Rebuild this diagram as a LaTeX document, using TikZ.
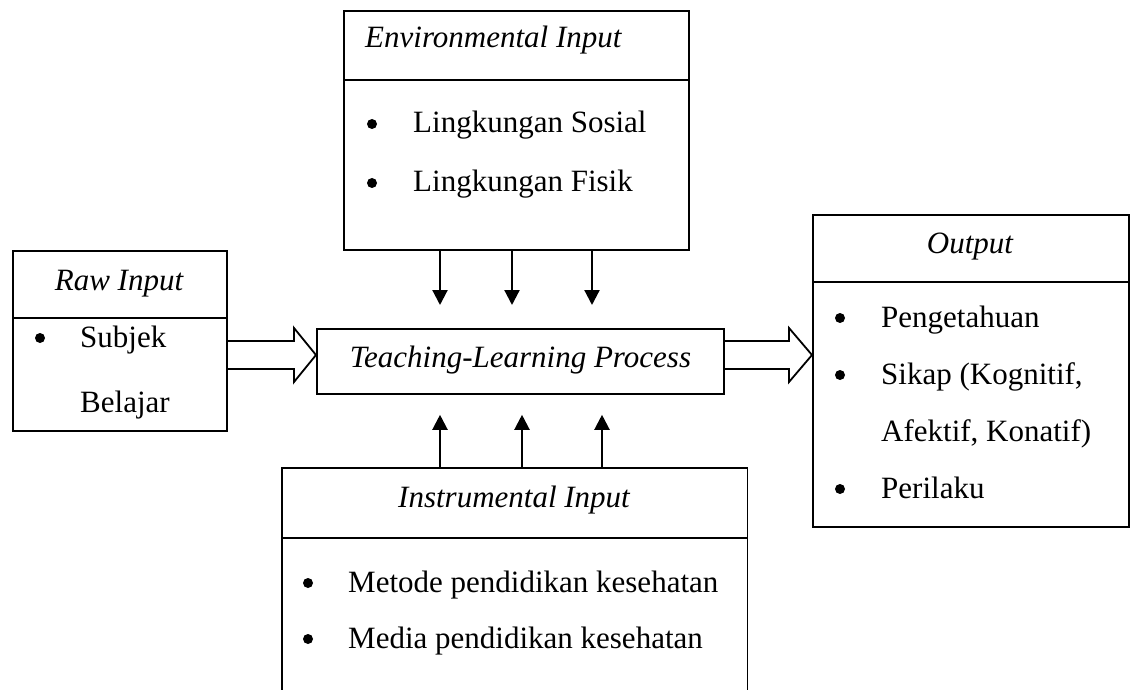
\documentclass[tikz,border=0pt]{standalone}
\usepackage{fontspec}
\setmainfont{Liberation Serif}
\usetikzlibrary{arrows.meta,calc}

\newcommand\bodyfont{\fontsize{31}{37}\selectfont}

\tikzset{
  box/.style={draw, line width=1.8pt, inner sep=0pt, anchor=north west},
  item/.style={anchor=base west, inner sep=0pt},
  head/.style={anchor=base, inner sep=0pt, font=\bodyfont\itshape},
  dot/.style={circle, fill, inner sep=0pt, minimum size=10pt},
  feed/.style={line width=2.2pt, -{Triangle[width=15pt,length=15pt]}},
  fat/.style={line width=1.8pt, line join=miter}
}

\begin{document}
\begin{tikzpicture}[x=1pt,y=-1pt,font=\bodyfont]
\useasboundingbox (0,0) rectangle (1136,690);

		% boxes
		\node [box, minimum width=345, minimum height=239] (env) at (343,10) {};
		\node [box, minimum width=214, minimum height=180] (raw) at (12,250) {};
		\node [box, minimum width=407, minimum height=65] (proc) at (316,328) {};
		\node [box, minimum width=316, minimum height=312] (out) at (812,214) {};
		\node [inner sep=0pt, anchor=north west, minimum width=465, minimum height=240] (ins) at (282,468) {};
		\draw [line width=1.8pt] (ins.south west) -- (ins.north west) -- (ins.north east) -- (ins.south east);

		% dividers
		\draw [line width=1.8pt] (env.west |- 0,80) -- (env.east |- 0,80);
		\draw [line width=1.8pt] (raw.west |- 0,318) -- (raw.east |- 0,318);
		\draw [line width=1.8pt] (out.west |- 0,282) -- (out.east |- 0,282);
		\draw [line width=1.8pt] (ins.west |- 0,538) -- (ins.east |- 0,538);

		% titles
		\node [head, anchor=base west] (envT) at (365,48) {Environmental Input};
		\node [head] (rawT) at (119,290) {Raw Input};
		\node [head] (procT) at (proc.center |- 0,367) {Teaching-Learning Process};
		\node [head] (outT) at (970,253) {Output};
		\node [head] (insT) at (514,507) {Instrumental Input};

		% items
		\node [dot] at (372,124) {};
		\node [item] (env1) at (413,133) {Lingkungan Sosial};
		\node [dot] at (372,183) {};
		\node [item] (env2) at (413,192) {Lingkungan Fisik};

		\node [dot] at (40,338) {};
		\node [item] (raw1) at (80,347) {Subjek};
		\node [item] (raw2) at (80,412) {Belajar};

		\node [dot] at (840,318) {};
		\node [item] (out1) at (881,327) {Pengetahuan};
		\node [dot] at (840,375) {};
		\node [item] (out2) at (881,384) {Sikap (Kognitif,};
		\node [item] (out3) at (881,441) {Afektif, Konatif)};
		\node [dot] at (840,489) {};
		\node [item] (out4) at (881,498) {Perilaku};

		\node [dot] at (308,583) {};
		\node [item] (ins1) at (348,592) {Metode pendidikan kesehatan};
		\node [dot] at (308,639) {};
		\node [item] (ins2) at (348,648) {Media pendidikan kesehatan};

		% thin arrows
		\foreach \x in {440,512,592}
			\draw [feed, shorten >=23pt] (\x,0 |- env.south) -- (\x,0 |- proc.north);
		\foreach \x in {440,522,602}
			\draw [feed, shorten >=20pt] (\x,0 |- ins.north) -- (\x,0 |- proc.south);

		% hollow arrows
		\coordinate (LS) at (raw.east |- 0,355);
		\coordinate (LT) at (proc.west |- 0,355);
		\coordinate (RS) at (proc.east |- 0,355);
		\coordinate (RT) at (out.west |- 0,355);
		\draw [fat] ($(LS)+(0,-14)$) -- ($(LT)+(-22,-14)$) -- ($(LT)+(-22,-27)$) -- (LT)
			-- ($(LT)+(-22,27)$) -- ($(LT)+(-22,14)$) -- ($(LS)+(0,14)$);
		\draw [fat] ($(RS)+(0,-14)$) -- ($(RT)+(-23,-14)$) -- ($(RT)+(-23,-27)$) -- (RT)
			-- ($(RT)+(-23,27)$) -- ($(RT)+(-23,14)$) -- ($(RS)+(0,14)$);

\end{tikzpicture}
\end{document}
